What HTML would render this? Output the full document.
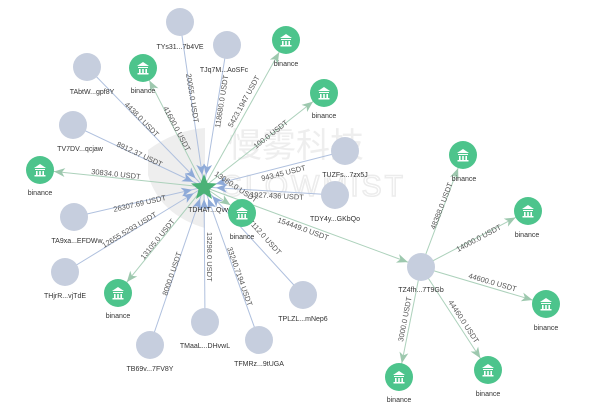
<!DOCTYPE html>
<html><head><meta charset="utf-8"><style>
html,body{margin:0;padding:0;background:#fff;}
svg{display:block;font-family:"Liberation Sans","Noto Sans CJK SC",sans-serif;}
.b{stroke:#afc0de;stroke-width:1;fill:none;}
.g{stroke:#acd1bb;stroke-width:1;fill:none;}
.el{font-size:7.5px;fill:#555;}
.nl{font-size:7px;fill:#333;text-anchor:middle;}
.gn{fill:#c6cede;}
.bn{fill:#4dc48c;}
</style></head><body>
<svg width="600" height="416" viewBox="0 0 600 416">
<defs>
<marker id="ab" markerUnits="userSpaceOnUse" markerWidth="12" markerHeight="10" refX="23" refY="4.5" orient="auto" style="overflow:visible"><path d="M0,0 L11,4.5 L0,9 L3,4.5z" fill="#8eaad8"/></marker>
<marker id="ag" markerUnits="userSpaceOnUse" markerWidth="12" markerHeight="10" refX="25" refY="4.5" orient="auto" style="overflow:visible"><path d="M0,0 L11,4.5 L0,9 L3,4.5z" fill="#9dc8ae"/></marker>
<g id="bank"><path d="M-6,-2 L0,-6 L6,-2z M-5,-1 h10 v1 h-10z M-4,1 h1.6 v4 h-1.6z M-0.8,1 h1.6 v4 h-1.6z M2.4,1 h1.6 v4 h-1.6z M-5.5,5 h11 v1.5 h-11z" fill="#fff"/></g>
</defs>
<!-- watermark -->
<path d="M148,150 Q175,130 205,128 L205,228 Q160,215 148,175z" fill="#eeeeee"/>
<text x="228" y="157" font-size="34" fill="#eeeeee" style="font-family:'Noto Sans CJK SC',sans-serif">慢雾科技</text>
<text x="222" y="196" font-size="30" fill="none" stroke="#ececec" stroke-width="1.5" letter-spacing="3">SLOWMIST</text>
<!-- edges into center (blue) -->
<line class="b" x1="180" y1="22" x2="204" y2="187" marker-end="url(#ab)"/>
<line class="b" x1="227" y1="45" x2="204" y2="187" marker-end="url(#ab)"/>
<line class="b" x1="87" y1="67" x2="204" y2="187" marker-end="url(#ab)"/>
<line class="b" x1="73" y1="125" x2="204" y2="187" marker-end="url(#ab)"/>
<line class="b" x1="345" y1="151" x2="204" y2="187" marker-end="url(#ab)"/>
<line class="b" x1="335" y1="195" x2="204" y2="187" marker-end="url(#ab)"/>
<line class="b" x1="74" y1="217" x2="204" y2="187" marker-end="url(#ab)"/>
<line class="b" x1="65" y1="272" x2="204" y2="187" marker-end="url(#ab)"/>
<line class="b" x1="150" y1="345" x2="204" y2="187" marker-end="url(#ab)"/>
<line class="b" x1="205" y1="322" x2="204" y2="187" marker-end="url(#ab)"/>
<line class="b" x1="259" y1="340" x2="204" y2="187" marker-end="url(#ab)"/>
<line class="b" x1="303" y1="295" x2="204" y2="187" marker-end="url(#ab)"/>
<!-- green out edges -->
<line class="g" x1="204" y1="187" x2="143" y2="68" marker-end="url(#ag)"/>
<line class="g" x1="204" y1="187" x2="286" y2="40" marker-end="url(#ag)"/>
<line class="g" x1="204" y1="187" x2="324" y2="93" marker-end="url(#ag)"/>
<line class="g" x1="204" y1="187" x2="40" y2="170" marker-end="url(#ag)"/>
<line class="g" x1="204" y1="187" x2="242" y2="213" marker-end="url(#ag)"/>
<line class="g" x1="204" y1="187" x2="118" y2="293" marker-end="url(#ag)"/>
<line class="g" x1="204" y1="187" x2="421" y2="267" marker-end="url(#ag)"/>
<line class="g" x1="421" y1="267" x2="463" y2="155" marker-end="url(#ag)"/>
<line class="g" x1="421" y1="267" x2="528" y2="211" marker-end="url(#ag)"/>
<line class="g" x1="421" y1="267" x2="546" y2="304" marker-end="url(#ag)"/>
<line class="g" x1="421" y1="267" x2="399" y2="377" marker-end="url(#ag)"/>
<line class="g" x1="421" y1="267" x2="488" y2="370" marker-end="url(#ag)"/>
<!-- edge labels -->
<g class="el">
<text transform="translate(186,74) rotate(81)">20055.0 USDT</text>
<text transform="translate(220,128) rotate(-81)">118680.0 USDT</text>
<text transform="translate(124,105) rotate(45.5)">4438.0 USDT</text>
<text transform="translate(163,108) rotate(62)">41600.0 USDT</text>
<text transform="translate(232,128) rotate(-61)">5423.1947 USDT</text>
<text transform="translate(256,149) rotate(-38)">100.0 USDT</text>
<text transform="translate(116,146) rotate(25)">8912.37 USDT</text>
<text transform="translate(91,174) rotate(6)">30834.0 USDT</text>
<text transform="translate(262,181) rotate(-14)">943.45 USDT</text>
<text transform="translate(214,175) rotate(34)">13060.0 USDT</text>
<text transform="translate(250,197) rotate(3)">1927.436 USDT</text>
<text transform="translate(114,212) rotate(-13)">26307.69 USDT</text>
<text transform="translate(104,248) rotate(-31)">12655.5293 USDT</text>
<text transform="translate(144,260) rotate(-51)">13105.0 USDT</text>
<text transform="translate(167,296) rotate(-71)">8000.0 USDT</text>
<text transform="translate(207,232) rotate(90)">13298.0 USDT</text>
<text transform="translate(227,248) rotate(70.5)">33240.7194 USDT</text>
<text transform="translate(248,222) rotate(48)">7112.0 USDT</text>
<text transform="translate(277,222) rotate(20)">154449.0 USDT</text>
<text transform="translate(435,230) rotate(-69)">48388.0 USDT</text>
<text transform="translate(458,252) rotate(-28)">14000.0 USDT</text>
<text transform="translate(468,278) rotate(16)">44600.0 USDT</text>
<text transform="translate(403,342) rotate(-79)">3000.0 USDT</text>
<text transform="translate(448,302) rotate(57)">44460.0 USDT</text>
</g>
<!-- gray nodes -->
<g>
<circle class="gn" cx="180" cy="22" r="14"/><text class="nl" x="180" y="49">TYs31...7b4VE</text>
<circle class="gn" cx="227" cy="45" r="14"/><text class="nl" x="224" y="72">TJq7M...AoSFc</text>
<circle class="gn" cx="87" cy="67" r="14"/><text class="nl" x="92" y="94">TAbtW...gpf8Y</text>
<circle class="gn" cx="73" cy="125" r="14"/><text class="nl" x="80" y="151">TV7DV...qcjaw</text>
<circle class="gn" cx="74" cy="217" r="14"/><text class="nl" x="77" y="243">TA9xa...EFDWw</text>
<circle class="gn" cx="65" cy="272" r="14"/><text class="nl" x="65" y="298">THjrR...vjTdE</text>
<circle class="gn" cx="150" cy="345" r="14"/><text class="nl" x="150" y="371">TB69v...7FV8Y</text>
<circle class="gn" cx="205" cy="322" r="14"/><text class="nl" x="205" y="348">TMaaL...DHvwL</text>
<circle class="gn" cx="259" cy="340" r="14"/><text class="nl" x="259" y="366">TFMRz...9tUGA</text>
<circle class="gn" cx="303" cy="295" r="14"/><text class="nl" x="303" y="321">TPLZL...mNep6</text>
<circle class="gn" cx="345" cy="151" r="14"/><text class="nl" x="345" y="177">TUZFs...7zx5J</text>
<circle class="gn" cx="335" cy="195" r="14"/><text class="nl" x="335" y="221">TDY4y...GKbQo</text>
<circle class="gn" cx="421" cy="267" r="14"/><text class="nl" x="421" y="292">TZ4fh...7T9Gb</text>
</g>
<!-- center star -->
<path d="M204,174 L207.5,183 L217,183.5 L209.5,189.5 L212,199 L204,193.5 L196,199 L198.5,189.5 L191,183.5 L200.5,183z" fill="#4bb277"/>
<text class="nl" x="212" y="212">TDHAT...Qvwm</text>
<!-- green nodes -->
<g>
<circle class="bn" cx="143" cy="68" r="14"/><use href="#bank" x="143" y="68"/><text class="nl" x="143" y="93">binance</text>
<circle class="bn" cx="286" cy="40" r="14"/><use href="#bank" x="286" y="40"/><text class="nl" x="286" y="66">binance</text>
<circle class="bn" cx="324" cy="93" r="14"/><use href="#bank" x="324" y="93"/><text class="nl" x="324" y="118">binance</text>
<circle class="bn" cx="40" cy="170" r="14"/><use href="#bank" x="40" y="170"/><text class="nl" x="40" y="195">binance</text>
<circle class="bn" cx="242" cy="213" r="14"/><use href="#bank" x="242" y="213"/><text class="nl" x="242" y="239">binance</text>
<circle class="bn" cx="118" cy="293" r="14"/><use href="#bank" x="118" y="293"/><text class="nl" x="118" y="318">binance</text>
<circle class="bn" cx="463" cy="155" r="14"/><use href="#bank" x="463" y="155"/><text class="nl" x="464" y="181">binance</text>
<circle class="bn" cx="528" cy="211" r="14"/><use href="#bank" x="528" y="211"/><text class="nl" x="527" y="237">binance</text>
<circle class="bn" cx="546" cy="304" r="14"/><use href="#bank" x="546" y="304"/><text class="nl" x="546" y="330">binance</text>
<circle class="bn" cx="399" cy="377" r="14"/><use href="#bank" x="399" y="377"/><text class="nl" x="399" y="402">binance</text>
<circle class="bn" cx="488" cy="370" r="14"/><use href="#bank" x="488" y="370"/><text class="nl" x="488" y="396">binance</text>
</g>
</svg>
</body></html>
